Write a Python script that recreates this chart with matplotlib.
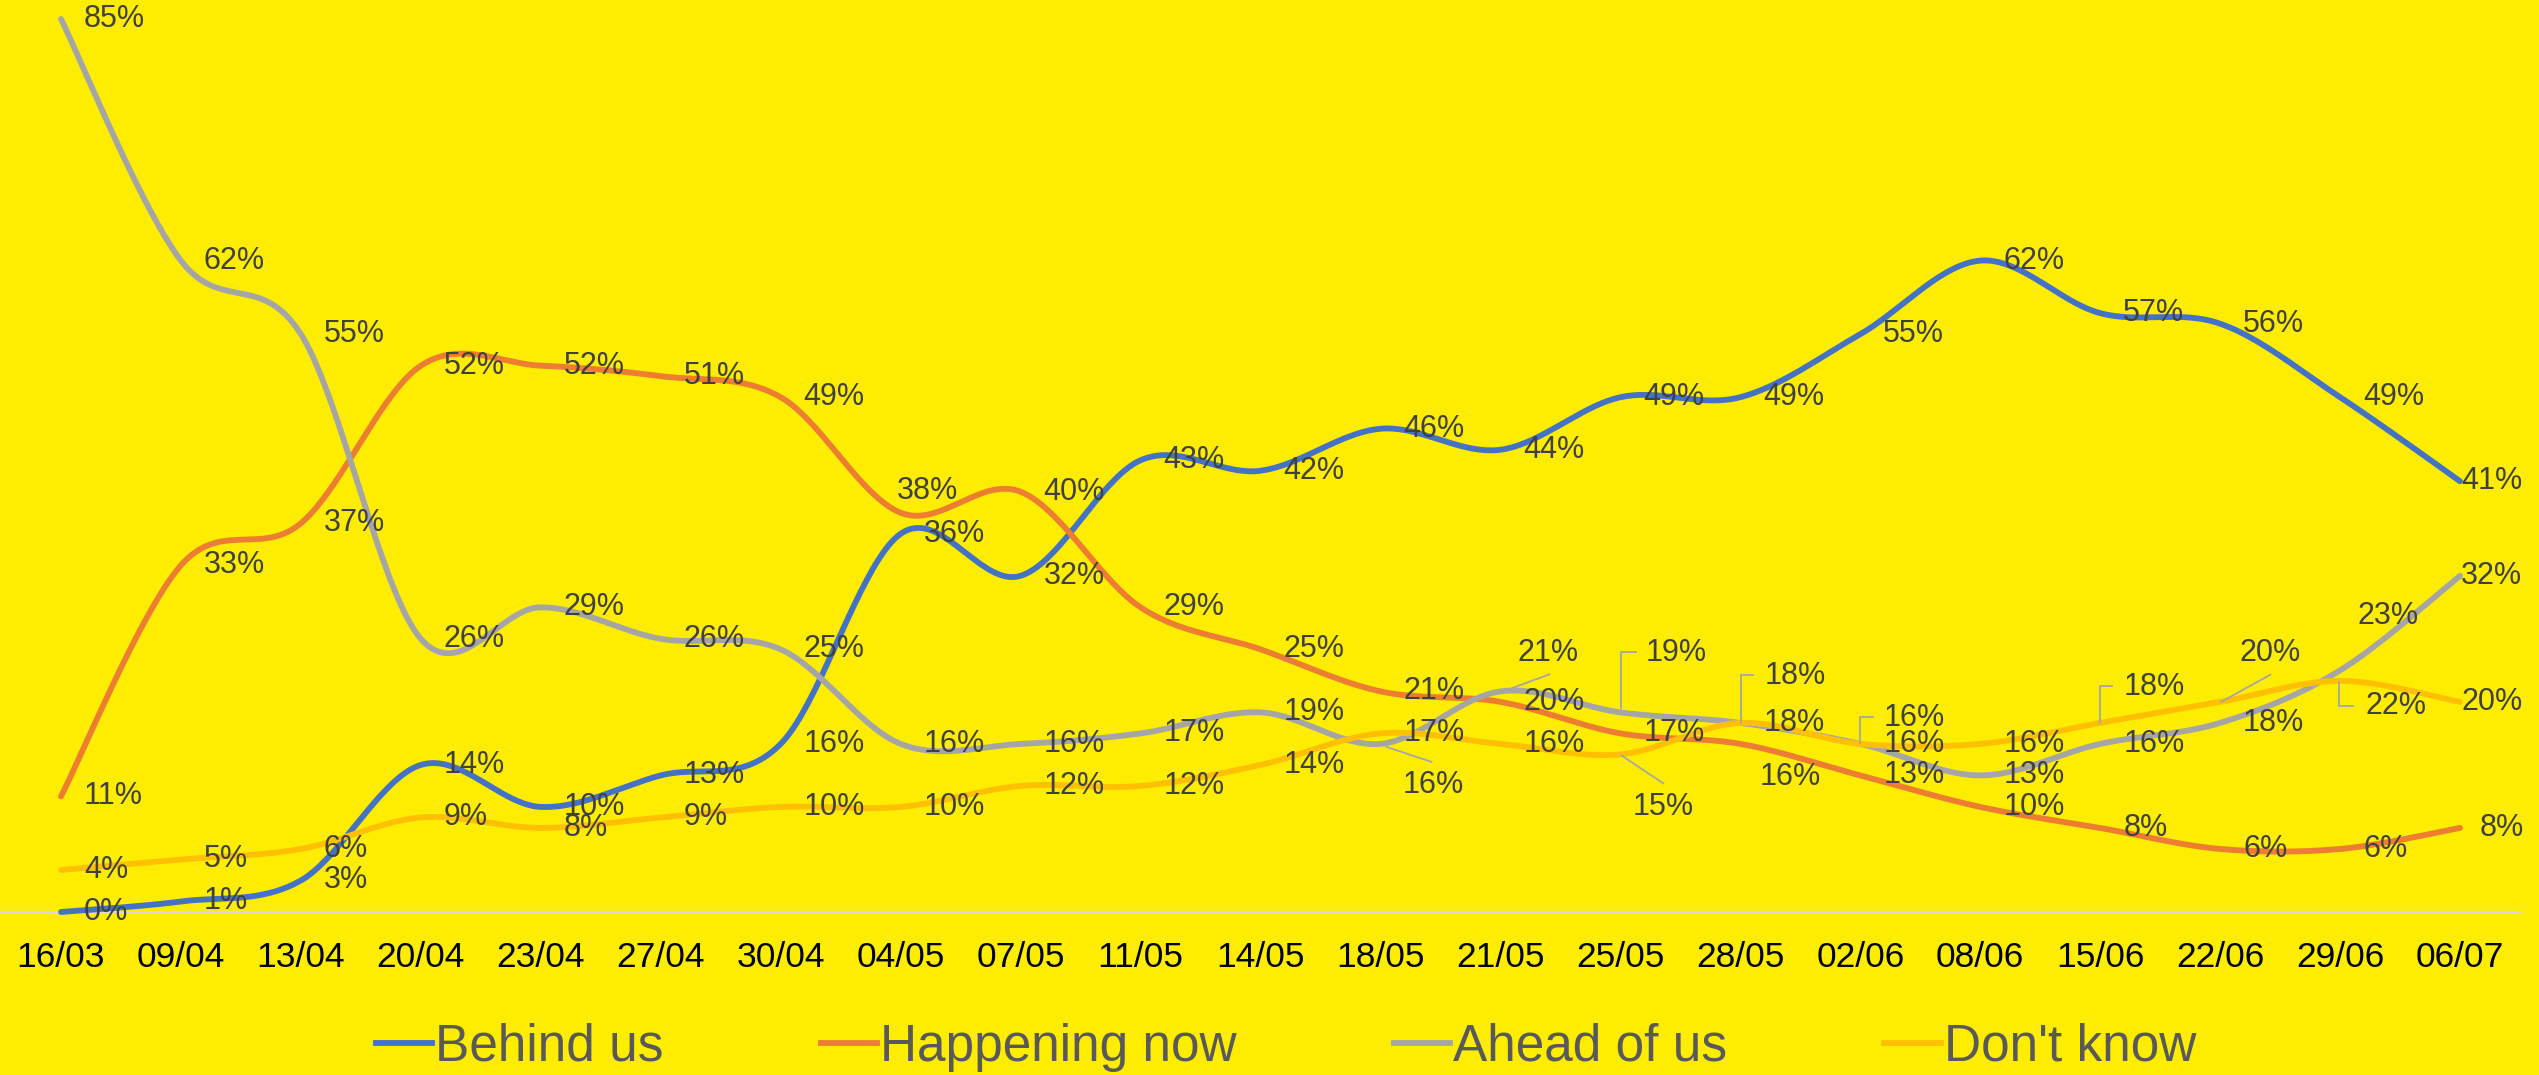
import numpy as np
import matplotlib
matplotlib.use("Agg")
import matplotlib.pyplot as plt
from matplotlib.lines import Line2D

# ---------------- data ----------------
dates = ["16/03", "09/04", "13/04", "20/04", "23/04", "27/04", "30/04", "04/05",
         "07/05", "11/05", "14/05", "18/05", "21/05", "25/05", "28/05", "02/06",
         "08/06", "15/06", "22/06", "29/06", "06/07"]
behind_us = [0, 1, 3, 14, 10, 13, 16, 36, 32, 43, 42, 46, 44, 49, 49, 55, 62, 57, 56, 49, 41]
happening_now = [11, 33, 37, 52, 52, 51, 49, 38, 40, 29, 25, 21, 20, 17, 16, 13, 10, 8, 6, 6, 8]
ahead_of_us = [85, 62, 55, 26, 29, 26, 25, 16, 16, 17, 19, 16, 21, 19, 18, 16, 13, 16, 18, 23, 32]
dont_know = [4, 5, 6, 9, 8, 9, 10, 10, 12, 12, 14, 17, 16, 15, 18, 16, 16, 18, 20, 22, 20]
series_names = ["Behind us", "Happening now", "Ahead of us", "Don't know"]

# ---------------- style ----------------
BG = "#FFED00"
COLORS = ["#4472C4", "#ED7D31", "#A5A5A5", "#FFC000"]
LABEL_COLOR = "#404040"
LEADER_COLOR = "#A6A6A6"
FONT = ["Liberation Sans", "DejaVu Sans"]
plt.rcParams["font.family"] = FONT

W, H, DPI = 2539, 1075, 100
fig = plt.figure(figsize=(W / DPI, H / DPI), dpi=DPI, facecolor=BG)
ax_left, ax_right, ax_bottom_px = 1, 2520, 912
ax = fig.add_axes([ax_left / W, (H - ax_bottom_px) / H,
                   (ax_right - ax_left) / W, ax_bottom_px / H])
ax.set_facecolor(BG)
n = len(dates)
ax.set_xlim(-0.5, n - 0.5)
ymax = 0.85 * 912 / (912 - 19)
ax.set_ylim(0, ymax)


def smooth(xs, ys, per=40):
    """Excel-like smoothed line (Catmull-Rom Bezier)."""
    pts = np.column_stack([xs, ys]).astype(float)
    out = []
    m = len(pts)
    t = np.linspace(0, 1, per)[:, None]
    for i in range(m - 1):
        p0 = pts[i - 1] if i > 0 else pts[i]
        p1 = pts[i]
        p2 = pts[i + 1]
        p3 = pts[i + 2] if i + 2 < m else pts[i + 1]
        c1 = p1 + (p2 - p0) / 6.0
        c2 = p2 - (p3 - p1) / 6.0
        seg = ((1 - t) ** 3) * p1 + 3 * ((1 - t) ** 2) * t * c1 + 3 * (1 - t) * t ** 2 * c2 + t ** 3 * p2
        out.append(seg if i == 0 else seg[1:])
    out = np.vstack(out)
    return out[:, 0], out[:, 1]


x = np.arange(n)
all_series = [behind_us, happening_now, ahead_of_us, dont_know]
for vals, col, name in zip(all_series, COLORS, series_names):
    v = np.array(vals) / 100.0
    sx, sy = smooth(x, v)
    ax.plot(sx, sy, color=col, lw=4.2, solid_capstyle="round", clip_on=False,
            label=name, zorder=3)

# ---------------- data labels ----------------
# default: right of the point. Exceptions: (series index, point index) -> (dx px, dy px down)
last = n - 1
moved = {
    (1, 7): (-4, -22),
    (2, 11): (22, 41),
    (2, 12): (17, -38),
    (2, 13): (25, -59),
    (3, 13): (12, 53),
    (2, 14): (24, -47),
    (1, 14): (19, 33),
    (2, 15): (23, -26),
    (3, 17): (23, -36),
    (3, 18): (19, -49),
    (2, 19): (17, -54),
    (3, 19): (25, 25),
    # labels kept inside the chart area at the right edge
    (0, last): (1, 0),
    (2, last): (1, 0),
    (3, last): (1, 0),
    (1, last): (20, 0),
}
# leader lines in pixel offsets from the data point (image coords, y down)
leaders = {
    (2, 11): [(6, 3), (51, 18)],
    (2, 12): [(11, -3), (49, -17)],
    (2, 13): [(1, -4), (1, -60), (16, -60)],
    (3, 13): [(1, 1), (43, 29)],
    (2, 14): [(1, 0), (1, -48), (13, -48)],
    (2, 15): [(0, -1), (0, -27), (13, -27)],
    (3, 17): [(0, 0), (0, -37), (12, -37)],
    (3, 18): [(1, 0), (50, -27)],
    (3, 19): [(-1, 1), (-1, 25), (13, 25)],
}

for si, vals in enumerate(all_series):
    for pi, val in enumerate(vals):
        dx, dy = moved.get((si, pi), (23, 0))
        ax.annotate(f"{val}%", xy=(pi, val / 100.0), xytext=(dx, -dy),
                    textcoords="offset pixels", ha="left", va="center",
                    fontsize=22, color=LABEL_COLOR, family=FONT, zorder=5,
                    annotation_clip=False)

fig.canvas.draw()
for (si, pi), offs in leaders.items():
    val = all_series[si][pi] / 100.0
    base = ax.transData.transform((pi, val))
    pts = np.array([[base[0] + ox, base[1] - oy] for ox, oy in offs])
    dpts = ax.transData.inverted().transform(pts)
    ax.plot(dpts[:, 0], dpts[:, 1], color=LEADER_COLOR, lw=1.3, zorder=4,
            clip_on=False)

# ---------------- axes ----------------
ax.set_xticks(x)
ax.set_xticklabels(dates, fontsize=25.5, color="black", family=FONT)
ax.tick_params(axis="x", length=0, pad=21)
ax.set_yticks([])
for s in ["top", "left", "right"]:
    ax.spines[s].set_visible(False)
ax.spines["bottom"].set_color("#D9D9D9")
ax.spines["bottom"].set_linewidth(1.6)

# ---------------- legend ----------------
handles = [Line2D([0], [0], color=c, lw=4.2) for c in COLORS]
leg = fig.legend(handles, series_names, loc="center",
                 bbox_to_anchor=(1286 / W, 1 - 1047 / H), ncol=4, frameon=False,
                 handlelength=1.1, handletextpad=0.06,
                 columnspacing=3.05, prop={"family": FONT, "size": 37})
for t in leg.get_texts():
    t.set_color("#595959")

fig.savefig("out.png", dpi=DPI, facecolor=BG)
